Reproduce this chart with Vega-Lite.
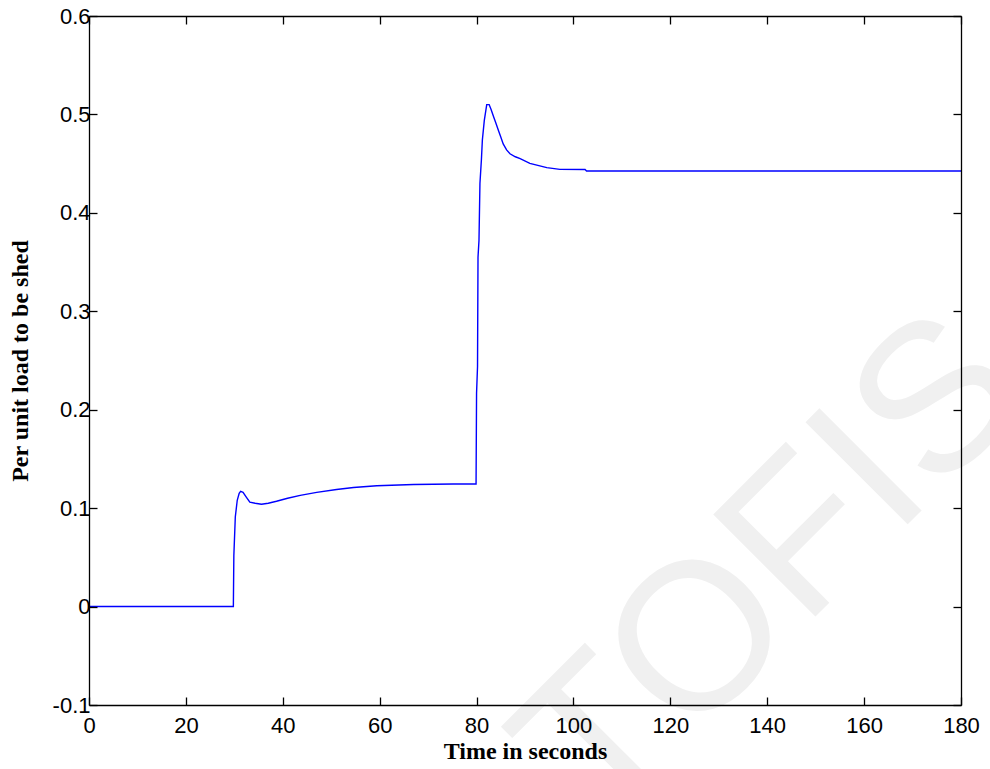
{
  "$schema": "https://vega.github.io/schema/vega-lite/v6.json",
  "width": 872,
  "height": 689,
  "autosize": {"type": "none"},
  "padding": {"left": 89, "top": 16, "right": 29, "bottom": 64},
  "background": "white",
  "config": {
    "view": {"stroke": null},
    "axis": {
      "labelFont": "Liberation Sans",
      "labelFontSize": 22,
      "labelColor": "black",
      "titleFont": "Liberation Serif",
      "titleFontSize": 24,
      "titleFontWeight": "bold",
      "titleColor": "black",
      "domainColor": "black",
      "domainWidth": 1.3,
      "tickColor": "black",
      "tickWidth": 1.3,
      "tickSize": -8,
      "grid": false,
      "zindex": 2
    }
  },
  "layer": [
    {
      "data": {"values": [{"t": 150.3, "v": -0.0086, "label": "TOFIS"}]},
      "mark": {"type": "text", "font": "Liberation Sans", "fontSize": 210, "color": "#f0f0f0", "angle": 315, "align": "center", "baseline": "alphabetic"},
      "encoding": {
        "x": {"field": "t", "type": "quantitative", "scale": {"domain": [0, 180], "nice": false, "zero": false},
              "axis": {"orient": "top", "labels": false, "title": null, "zindex": 2, "values": [0, 20, 40, 60, 80, 100, 120, 140, 160, 180]}},
        "y": {"field": "v", "type": "quantitative", "scale": {"domain": [-0.1, 0.6], "nice": false, "zero": false},
              "axis": {"orient": "right", "labels": false, "title": null, "zindex": 2, "values": [-0.1, 0, 0.1, 0.2, 0.3, 0.4, 0.5, 0.6]}},
        "text": {"field": "label"}
      }
    },
    {
      "data": {"values": [
        {"t": 0, "v": 0},
        {"t": 29.8, "v": 0},
        {"t": 29.9, "v": 0.052},
        {"t": 30.2, "v": 0.091},
        {"t": 30.6, "v": 0.108},
        {"t": 31.0, "v": 0.115},
        {"t": 31.3, "v": 0.117},
        {"t": 31.8, "v": 0.116},
        {"t": 32.5, "v": 0.111},
        {"t": 33.2, "v": 0.106},
        {"t": 34.3, "v": 0.105},
        {"t": 35.6, "v": 0.104},
        {"t": 37.0, "v": 0.105},
        {"t": 38.7, "v": 0.107},
        {"t": 41.0, "v": 0.110},
        {"t": 43.6, "v": 0.113},
        {"t": 47.0, "v": 0.116},
        {"t": 51.1, "v": 0.119},
        {"t": 54.6, "v": 0.121},
        {"t": 59.4, "v": 0.1228},
        {"t": 67.0, "v": 0.124},
        {"t": 75.2, "v": 0.1245},
        {"t": 79.9, "v": 0.1245},
        {"t": 80.0, "v": 0.217},
        {"t": 80.2, "v": 0.244},
        {"t": 80.3, "v": 0.355},
        {"t": 80.5, "v": 0.372},
        {"t": 80.7, "v": 0.430},
        {"t": 81.0, "v": 0.454},
        {"t": 81.2, "v": 0.474},
        {"t": 81.6, "v": 0.494},
        {"t": 82.1, "v": 0.510},
        {"t": 82.6, "v": 0.510},
        {"t": 83.0, "v": 0.505},
        {"t": 83.5, "v": 0.498},
        {"t": 84.0, "v": 0.491},
        {"t": 84.5, "v": 0.484},
        {"t": 85.0, "v": 0.477},
        {"t": 85.5, "v": 0.470},
        {"t": 86.2, "v": 0.464},
        {"t": 86.9, "v": 0.460},
        {"t": 88.0, "v": 0.457},
        {"t": 89.0, "v": 0.455},
        {"t": 91.0, "v": 0.4503},
        {"t": 94.5, "v": 0.446},
        {"t": 97.2, "v": 0.4442},
        {"t": 102.4, "v": 0.444},
        {"t": 102.7, "v": 0.4425},
        {"t": 180, "v": 0.4425}
      ]},
      "mark": {"type": "line", "color": "#0000ff", "strokeWidth": 1.4},
      "encoding": {
        "x": {"field": "t", "type": "quantitative", "scale": {"domain": [0, 180], "nice": false, "zero": false},
              "axis": {"orient": "bottom", "title": "Time in seconds", "zindex": 2, "labelFontSize": 22, "values": [0, 20, 40, 60, 80, 100, 120, 140, 160, 180], "labelPadding": 18, "titlePadding": 3, "labelFlush": false}},
        "y": {"field": "v", "type": "quantitative", "scale": {"domain": [-0.1, 0.6], "nice": false, "zero": false},
              "axis": {"orient": "left", "title": "Per unit load to be shed", "zindex": 2, "labelFontSize": 22, "values": [-0.1, 0, 0.1, 0.2, 0.3, 0.4, 0.5, 0.6], "labelPadding": 7, "titlePadding": 20, "labelFlush": false,
                       "labelExpr": "'' + round(datum.value * 10) / 10"}}
      }
    }
  ],
  "resolve": {"axis": {"x": "independent", "y": "independent"}}
}
